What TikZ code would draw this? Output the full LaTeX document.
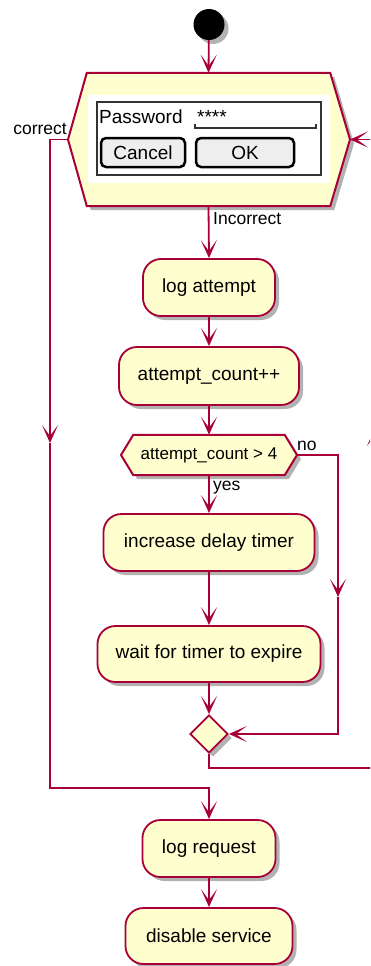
\documentclass[tikz,border=0pt]{standalone}
\usepackage{fontspec}
\setmainfont{Liberation Sans}
\usetikzlibrary{arrows.meta,shadows,shapes.geometric}
\definecolor{umlred}{HTML}{A80036}
\definecolor{umlfill}{HTML}{FEFECE}
\definecolor{btngray}{HTML}{EEEEEE}

\tikzset{
  umlshadow/.style={drop shadow={shadow xshift=4pt, shadow yshift=-4pt, fill=black, opacity=0.3}},
  actbox/.style={draw=umlred, fill=umlfill, line width=1.8pt, rounded corners=18pt, umlshadow,
    inner sep=0pt, font=\fontsize{19}{22}\selectfont},
  hexline/.style={draw=umlred, fill=umlfill, line width=2pt, line join=miter, umlshadow},
  line/.style={draw=umlred, line width=1.8pt},
  flow/.style={line, -{Stealth[length=18pt, width=16pt, inset=11pt]}},
  lbl/.style={inner sep=0pt, font=\fontsize{17.5}{20}\selectfont},
  btn/.style={draw=black, line width=2.5pt, fill=btngray, rounded corners=5pt, inner sep=0pt,
    font=\fontsize{19}{22}\selectfont}
}

\begin{document}
\begin{tikzpicture}[x=1pt, y=-1pt]
  \useasboundingbox (0,0) rectangle (370,966);
  \clip (0,0) rectangle (370,966);
  % start
  \node[circle, fill=black, minimum size=31pt, inner sep=0pt, umlshadow] (start) at (209,24.5) {};
  % password input
  \node[inner sep=0pt, minimum width=243pt, minimum height=133pt] (pwd) at (208.5,139.5) {};
  \coordinate (pwdW) at (68,139.5);
  \coordinate (pwdE) at (350,139.5);
  \path[hexline] (pwd.north west) -- (pwd.north east) -- (pwdE) -- (pwd.south east)
    -- (pwd.south west) -- (pwdW) -- cycle;
  \fill[white] (88,95) rectangle (330,183);
  \node[draw=black!80, line width=1.2pt, minimum width=224pt, minimum height=73pt, inner sep=0pt] (salt) at (209,138.5) {};
  \node[anchor=base west, inner sep=0pt, font=\fontsize{19}{22}\selectfont] (pwdtext) at (99,123) {Password};
  \node[anchor=base west, inner sep=0pt, font=\fontsize{19}{22}\selectfont] (stars) at (197,123) {****};
  \draw[black!80, line width=1.5pt] (195,124) -- (195,128) -- (316,128) -- (316,124);
  \node[btn, minimum width=84pt, minimum height=29pt] (cancel) at (143,152.5) {Cancel};
  \node[btn, minimum width=98pt, minimum height=29pt] (ok) at (245,152.5) {OK};
  % actions
  \node[actbox, minimum width=132pt, minimum height=57pt] (logatt) at (209,287.5) {log attempt};
  \node[actbox, minimum width=180pt, minimum height=58pt] (cntpp) at (209,376) {attempt\_count++};
  % decision
  \node[inner sep=0pt, minimum width=151pt, minimum height=40pt] (cnt) at (209,455) {};
  \coordinate (cntW) at (121,455);
  \coordinate (cntE) at (297,455);
  \path[hexline] (cnt.north west) -- (cnt.north east) -- (cntE) -- (cnt.south east)
    -- (cnt.south west) -- (cntW) -- cycle;
  \node[font=\fontsize{17}{20}\selectfont, inner sep=0pt] (cnttext) at (cnt) {attempt\_count > 4};
  \node[actbox, minimum width=211pt, minimum height=57pt] (incr) at (209,542.5) {increase delay timer};
  \node[actbox, minimum width=223pt, minimum height=56pt] (wait) at (209,654) {wait for timer to expire};
  \node[diamond, aspect=1, draw=umlred, fill=umlfill, line width=1.8pt, minimum size=38pt, inner sep=0pt, umlshadow] (merge) at (209,734) {};
  \node[actbox, minimum width=133pt, minimum height=57pt] (logreq) at (209,848.5) {log request};
  \node[actbox, minimum width=167pt, minimum height=56pt] (disable) at (209,936) {disable service};
  % helper points
  \coordinate (okmid) at (50,443);
  \coordinate (join) at (209,788);
  \coordinate (nomid) at (338,597);
  \coordinate (loopcorner) at (375,768);
  \coordinate (loopup) at (375,428);
  % connectors
  \draw[flow] (start) -- (pwd.north);
  \draw[flow] (pwd.south) -- (logatt.north);
  \draw[flow] (logatt) -- (cntpp);
  \draw[flow] (cntpp) -- (cnt.north);
  \draw[flow] (cnt.south) -- (incr.north);
  \draw[flow] (incr) -- (wait);
  \draw[flow] (wait.south) -- (merge.north);
  \draw[flow] (cntE) -| (nomid);
  \draw[flow] (nomid) |- (merge.east);
  \draw[line] (merge.south) |- (loopcorner);
  \draw[flow] (loopcorner) -- (loopup);
  \draw[flow] (loopup) |- (pwdE);
  \draw[flow] (pwdW) -| (okmid);
  \draw[flow] (okmid) |- (join) -- (logreq.north);
  \draw[flow] (logreq) -- (disable);
  % labels
  \node[lbl, anchor=east] (lcorrect) at (67,129) {correct};
  \node[lbl, anchor=west] (lincorrect) at (213,219) {Incorrect};
  \node[lbl, anchor=west] (lno) at (297,446) {no};
  \node[lbl, anchor=west] (lyes) at (213,488) {yes};
\end{tikzpicture}
\end{document}
